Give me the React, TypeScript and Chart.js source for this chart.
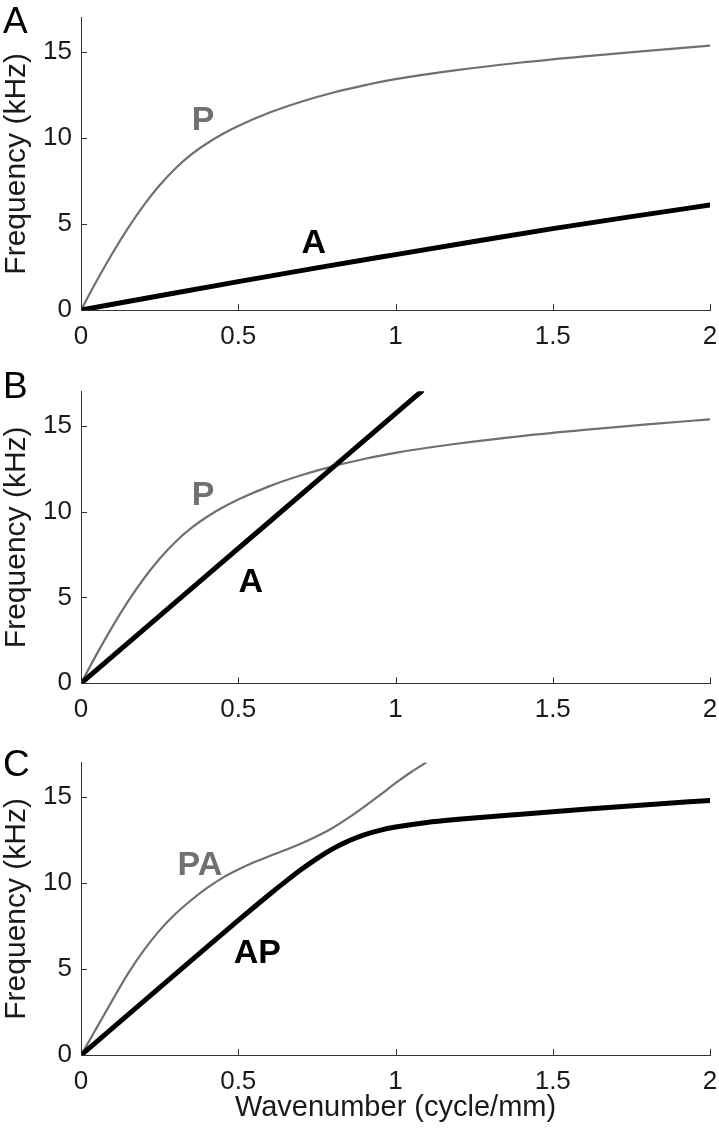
import React, { useEffect, useRef } from "react";
import { Chart, registerables } from "chart.js";

Chart.register(...registerables);

// ---------- data ----------
const X_TICKS = [0, 0.5, 1, 1.5, 2];
const Y_TICKS = [0, 5, 10, 15];

// P branch (panels A and B)
const P_X = [0, 0.05, 0.1, 0.15, 0.2, 0.25, 0.3, 0.35, 0.4, 0.45, 0.5, 0.6, 0.7, 0.8, 0.9, 1.0, 1.2, 1.4, 1.6, 1.8, 2.0];
const P_Y = [0, 1.7, 3.3, 4.78, 6.1, 7.25, 8.23, 9.03, 9.68, 10.23, 10.7, 11.48, 12.11, 12.63, 13.06, 13.42, 13.96, 14.39, 14.75, 15.07, 15.37];

// A branch, panel A
const A1_X = [0, 0.25, 0.5, 0.75, 1, 1.25, 1.5, 1.75, 2];
const A1_Y = [0, 0.83, 1.65, 2.45, 3.22, 3.98, 4.73, 5.43, 6.1];

// A branch, panel B
const A2_X = [0, 0.2, 0.4, 0.6, 0.8, 1.0, 1.083];
const A2_Y = [0, 3.14, 6.28, 9.42, 12.56, 15.7, 17];

// coupled branches, panel C
const PA_X = [0, 0.05, 0.1, 0.15, 0.2, 0.25, 0.3, 0.35, 0.4, 0.45, 0.5, 0.55, 0.6, 0.65, 0.7, 0.75, 0.8, 0.85, 0.9, 0.95, 1.0, 1.05, 1.097];
const PA_Y = [0, 1.6, 3.2, 4.75, 6.1, 7.25, 8.2, 9.0, 9.7, 10.3, 10.78, 11.2, 11.57, 11.92, 12.3, 12.72, 13.2, 13.78, 14.42, 15.1, 15.8, 16.45, 17.0];

const AP_X = [0, 0.1, 0.2, 0.3, 0.4, 0.5, 0.6, 0.65, 0.7, 0.75, 0.8, 0.85, 0.9, 0.95, 1.0, 1.1, 1.2, 1.4, 1.6, 1.8, 2.0];
const AP_Y = [0, 1.57, 3.14, 4.71, 6.28, 7.83, 9.35, 10.08, 10.78, 11.42, 11.98, 12.44, 12.8, 13.06, 13.25, 13.52, 13.7, 14.0, 14.28, 14.55, 14.8];

// curve labels (text, data position)
const LABELS_A = ["P", "A"];
const LABELS_A_X = [0.388, 0.74];
const LABELS_A_Y = [11.0, 3.88];
const LABELS_B = ["P", "A"];
const LABELS_B_X = [0.388, 0.54];
const LABELS_B_Y = [10.95, 5.86];
const LABELS_C = ["PA", "AP"];
const LABELS_C_X = [0.378, 0.561];
const LABELS_C_Y = [11.01, 5.92];

const Y_TITLE = "Frequency (kHz)";
const X_TITLE = "Wavenumber (cycle/mm)";
const PANEL_LETTERS = ["A", "B", "C"];

// ---------- styles ----------
const FONT = "'Liberation Sans', Arial, Helvetica, sans-serif";
const GRAY = "#707070";
const BLACK = "#000000";
const AXIS = "#333333";
const TEXT = "#1a1a1a";
const TICK_LEN = 6;

function pts(xs: number[], ys: number[]) {
  return xs.map((x, i) => ({ x, y: ys[i] }));
}

type Series = { xs: number[]; ys: number[]; color: string; width: number };
type PanelProps = {
  top: number;
  height: number;
  padTop: number;
  xHeight: number;
  series: Series[];
  labels: string[];
  lx: number[];
  ly: number[];
  labelColors: string[];
  xTitle: boolean;
};

const curveLabelPlugin = {
  id: "curveLabels",
  afterDatasetsDraw(chart: any, _args: any, opts: any) {
    const { ctx, scales } = chart;
    const xs = scales.x;
    const ys = scales.y;
    ctx.save();
    ctx.font = `bold 34px ${FONT}`;
    ctx.textAlign = "center";
    ctx.textBaseline = "middle";
    (opts.labels || []).forEach((t: string, i: number) => {
      ctx.fillStyle = opts.colors[i];
      ctx.fillText(t, xs.getPixelForValue(opts.lx[i]), ys.getPixelForValue(opts.ly[i]));
    });
    ctx.restore();
  },
};

// inward-pointing tick marks on the left and bottom axes
const innerTicksPlugin = {
  id: "innerTicks",
  afterDraw(chart: any) {
    const { ctx, scales, chartArea } = chart;
    ctx.save();
    ctx.strokeStyle = AXIS;
    ctx.lineWidth = 1;
    ctx.beginPath();
    X_TICKS.forEach((v) => {
      const px = Math.round(scales.x.getPixelForValue(v)) + 0.5;
      ctx.moveTo(px, chartArea.bottom);
      ctx.lineTo(px, chartArea.bottom - TICK_LEN);
    });
    Y_TICKS.forEach((v) => {
      const py = Math.round(scales.y.getPixelForValue(v)) + 0.5;
      ctx.moveTo(chartArea.left, py);
      ctx.lineTo(chartArea.left + TICK_LEN, py);
    });
    ctx.stroke();
    ctx.restore();
  },
};

function Panel(p: PanelProps) {
  const ref = useRef<HTMLCanvasElement | null>(null);
  useEffect(() => {
    if (!ref.current) return;
    const chart = new Chart(ref.current, {
      type: "line",
      data: {
        datasets: p.series.map((s) => ({
          data: pts(s.xs, s.ys),
          borderColor: s.color,
          borderWidth: s.width,
          pointRadius: 0,
          fill: false,
          cubicInterpolationMode: "monotone" as const,
          borderCapStyle: "round" as const,
        })),
      },
      options: {
        animation: false,
        responsive: false,
        devicePixelRatio: 1,
        layout: { padding: { top: p.padTop, right: 9, left: 0, bottom: 0 } },
        plugins: {
          legend: { display: false },
          tooltip: { enabled: false },
          curveLabels: { labels: p.labels, lx: p.lx, ly: p.ly, colors: p.labelColors },
        } as any,
        scales: {
          x: {
            type: "linear",
            min: 0,
            max: 2,
            afterBuildTicks: (s: any) => {
              s.ticks = X_TICKS.map((v) => ({ value: v }));
            },
            afterFit: (s: any) => {
              s.height = p.xHeight;
              s.paddingLeft = 0;
              s.paddingRight = 0;
            },
            ticks: {
              font: { family: FONT, size: 26 },
              color: TEXT,
              padding: 11,
              maxRotation: 0,
              autoSkip: false,
              callback: (v: any) => String(v),
            },
            grid: { display: false, drawOnChartArea: false, drawTicks: false },
            border: { display: true, color: AXIS, width: 1 },
            title: {
              display: p.xTitle,
              text: X_TITLE,
              color: TEXT,
              font: { family: FONT, size: 29 },
              padding: { top: 0, bottom: 6 },
            },
          },
          y: {
            type: "linear",
            min: 0,
            max: 17,
            afterBuildTicks: (s: any) => {
              s.ticks = Y_TICKS.map((v) => ({ value: v }));
            },
            afterFit: (s: any) => {
              s.width = 81;
              s.paddingTop = 0;
              s.paddingBottom = 0;
            },
            ticks: {
              font: { family: FONT, size: 26 },
              color: TEXT,
              padding: 9,
              autoSkip: false,
              callback: (v: any) => String(v),
            },
            grid: { display: false, drawOnChartArea: false, drawTicks: false },
            border: { display: true, color: AXIS, width: 1 },
            title: {
              display: true,
              text: Y_TITLE,
              color: TEXT,
              font: { family: FONT, size: 30, lineHeight: 1.1 },
              padding: { top: 0, bottom: 0 },
            },
          },
        },
      },
      plugins: [curveLabelPlugin as any, innerTicksPlugin as any],
    });
    return () => chart.destroy();
  }, []);
  return (
    <canvas
      ref={ref}
      width={719}
      height={p.height}
      style={{ position: "absolute", left: 0, top: p.top, width: 719, height: p.height }}
    />
  );
}

export default function App() {
  const letterStyle = (top: number): React.CSSProperties => ({
    position: "absolute",
    left: 3,
    top,
    fontFamily: FONT,
    fontSize: 37,
    lineHeight: 1,
    color: "#000",
  });
  return (
    <div style={{ position: "absolute", left: 0, top: 0, width: 719, height: 1131, background: "#fff", overflow: "hidden" }}>
      <Panel
        top={0}
        height={372}
        padTop={17.6}
        xHeight={62}
        series={[
          { xs: A1_X, ys: A1_Y, color: BLACK, width: 5 },
          { xs: P_X, ys: P_Y, color: GRAY, width: 2.2 },
        ]}
        labels={LABELS_A}
        lx={LABELS_A_X}
        ly={LABELS_A_Y}
        labelColors={[GRAY, BLACK]}
        xTitle={false}
      />
      <Panel
        top={372}
        height={372}
        padTop={19.3}
        xHeight={60.7}
        series={[
          { xs: A2_X, ys: A2_Y, color: BLACK, width: 5 },
          { xs: P_X, ys: P_Y, color: GRAY, width: 2.2 },
        ]}
        labels={LABELS_B}
        lx={LABELS_B_X}
        ly={LABELS_B_Y}
        labelColors={[GRAY, BLACK]}
        xTitle={false}
      />
      <Panel
        top={744}
        height={387}
        padTop={18.5}
        xHeight={75.8}
        series={[
          { xs: AP_X, ys: AP_Y, color: BLACK, width: 5 },
          { xs: PA_X, ys: PA_Y, color: GRAY, width: 2.2 },
        ]}
        labels={LABELS_C}
        lx={LABELS_C_X}
        ly={LABELS_C_Y}
        labelColors={[GRAY, BLACK]}
        xTitle={true}
      />
      <div style={letterStyle(2)}>{PANEL_LETTERS[0]}</div>
      <div style={letterStyle(367)}>{PANEL_LETTERS[1]}</div>
      <div style={letterStyle(745)}>{PANEL_LETTERS[2]}</div>
    </div>
  );
}
